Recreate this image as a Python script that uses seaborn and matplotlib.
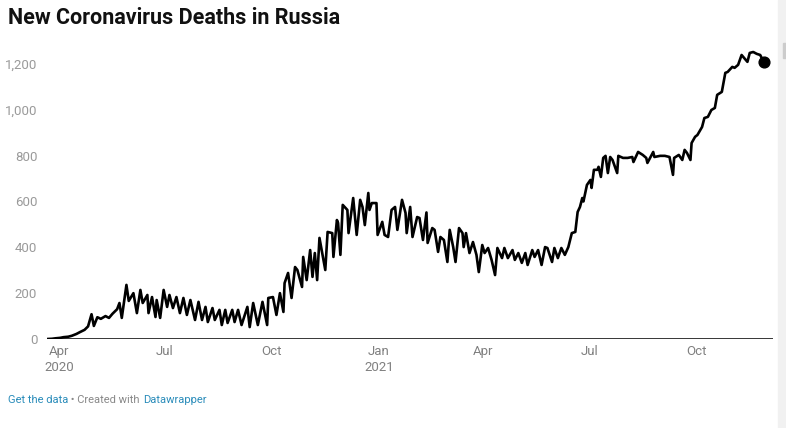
import pandas as pd
import matplotlib.pyplot as plt
import matplotlib.ticker as mticker
from matplotlib.patches import Rectangle
import seaborn as sns

# days counted from 1 Apr 2020, with the daily deaths
day_offset = [-10, -6, -3, 1, 4, 8, 11, 15, 18, 22, 25, 28, 30, 33, 36, 40, 43, 46, 50, 52,
              54, 58, 60, 64, 67, 70, 72, 76, 77, 80, 83, 84, 87, 90, 93, 95, 98, 101, 104, 107,
              110, 113, 117, 120, 123, 126, 128, 132, 134, 138, 140, 143, 145, 149, 151, 154, 157, 162, 164, 167,
              171, 175, 179, 180, 184, 187, 190, 193, 194, 197, 200, 203, 205, 209, 210, 213, 216, 218, 220, 222,
              224, 229, 231, 235, 236, 239, 240, 242, 244, 248, 249, 253, 256, 259, 261, 263, 266, 267, 269, 273,
              274, 278, 280, 283, 286, 289, 291, 295, 298, 299, 302, 304, 308, 310, 313, 316, 317, 321, 323, 326,
              328, 331, 334, 336, 339, 341, 344, 347, 348, 350, 353, 356, 359, 361, 364, 366, 369, 372, 375, 377,
              381, 383, 386, 390, 392, 395, 398, 401, 403, 407, 409, 412, 415, 418, 420, 424, 426, 429, 432, 435,
              438, 441, 444, 446, 448, 450, 451, 454, 457, 458, 460, 463, 464, 466, 468, 470, 472, 474, 476, 480,
              481, 485, 489, 493, 494, 498, 502, 505, 506, 511, 512, 517, 521, 525, 528, 529, 533, 536, 538, 540,
              543, 544, 547, 549, 553, 555, 558, 561, 564, 566, 570, 573, 575, 579, 581, 584, 587, 592, 594, 597,
              600, 603, 606]
deaths = [0, 1, 3, 5, 8, 10, 14, 22, 30, 40, 55, 108, 57, 95, 88, 100, 92, 110, 130, 157,
          92, 236, 166, 200, 113, 214, 157, 192, 113, 183, 96, 170, 92, 214, 140, 192, 135, 183, 113, 179,
          105, 170, 83, 162, 83, 140, 74, 135, 83, 127, 61, 127, 70, 127, 74, 127, 61, 140, 52, 157,
          61, 162, 61, 179, 183, 105, 200, 118, 244, 288, 179, 314, 301, 227, 358, 257, 388, 271, 375, 257,
          441, 301, 467, 462, 358, 519, 506, 367, 585, 563, 462, 615, 454, 607, 576, 497, 637, 563, 593, 593,
          454, 511, 454, 445, 563, 576, 476, 607, 550, 462, 576, 445, 532, 528, 432, 552, 419, 484, 476, 380,
          445, 432, 336, 476, 401, 336, 484, 462, 401, 462, 375, 423, 367, 292, 410, 375, 397, 345, 279, 397,
          353, 397, 353, 388, 345, 375, 332, 375, 323, 388, 358, 388, 323, 401, 397, 336, 397, 353, 397, 367,
          401, 462, 467, 554, 576, 615, 600, 672, 694, 659, 738, 738, 751, 707, 790, 799, 724, 794, 781, 724,
          799, 790, 790, 794, 772, 816, 803, 790, 768, 816, 794, 799, 799, 794, 716, 790, 803, 781, 825, 812,
          781, 855, 882, 890, 925, 964, 969, 999, 1008, 1065, 1078, 1161, 1165, 1187, 1183, 1196, 1239, 1209, 1248, 1252,
          1244, 1239, 1209]

tick_dates = ['2020-04-01', '2020-07-01', '2020-10-01', '2021-01-01', '2021-04-01', '2021-07-01', '2021-10-01']
tick_labels = ['Apr\n2020', 'Jul', 'Oct', 'Jan\n2021', 'Apr', 'Jul', 'Oct']
y_ticks = [0, 200, 400, 600, 800, 1000, 1200]

df = pd.DataFrame({
    'date': pd.Timestamp('2020-04-01') + pd.to_timedelta(day_offset, unit='D'),
    'deaths': deaths,
})

sns.set_theme(style="white", rc={"axes.grid": False})
plt.rcParams['font.family'] = ['Roboto', 'DejaVu Sans']

fig = plt.figure(figsize=(7.86, 4.28), dpi=100)
ax = fig.add_axes([47 / 786, 1 - 339 / 428, 726 / 786, 298 / 428])

sns.lineplot(data=df, x='date', y='deaths', color='black', linewidth=1.9, ax=ax)
last = df.iloc[[-1]]
ax.scatter(last['date'], last['deaths'], s=60, color='black', zorder=5)
ax.axhline(0, color='black', linewidth=1.1, zorder=4)

start = pd.Timestamp('2020-04-01')
ax.set_xlim(start + pd.Timedelta(days=-10.3), start + pd.Timedelta(days=614))
ax.set_ylim(0, 1300)

ax.set_xticks(pd.to_datetime(tick_dates))
ax.set_xticklabels(tick_labels, color='#808080', fontsize=9.5, linespacing=1.3)
ax.set_yticks(y_ticks)
ax.yaxis.set_major_formatter(mticker.FuncFormatter(lambda v, p: f'{int(v):,}'))
ax.tick_params(axis='y', length=0, pad=7, labelsize=9.5, labelcolor='#9a9a9a')
ax.tick_params(axis='x', length=0, pad=4)
ax.set_xlabel('')
ax.set_ylabel('')
sns.despine(ax=ax, left=True, bottom=True)

fig.text(8 / 786, 1 - 18 / 428, 'New Coronavirus Deaths in Russia', fontsize=15.5,
         fontweight='bold', color='#111111', va='center', ha='left')

# footer with mixed colours
fig.canvas.draw()
renderer = fig.canvas.get_renderer()
x_pos = 8
for part, col in [('Get the data', '#2a8cba'), (' \u2022 Created with ', '#888888'), ('Datawrapper', '#2a8cba')]:
    t = fig.text(x_pos / 786, 1 - 400 / 428, part, fontsize=8, color=col, va='center', ha='left')
    x_pos += t.get_window_extent(renderer).width

# light strip on the right edge
fig.patches.append(Rectangle((778 / 786, 0), 8 / 786, 1, transform=fig.transFigure,
                             color='#f1f1f1', zorder=0))
fig.patches.append(Rectangle((783 / 786, 1 - 58 / 428), 3 / 786, 15 / 428, transform=fig.transFigure,
                             color='#cccccc', zorder=1))

plt.savefig('out.png', dpi=100)
